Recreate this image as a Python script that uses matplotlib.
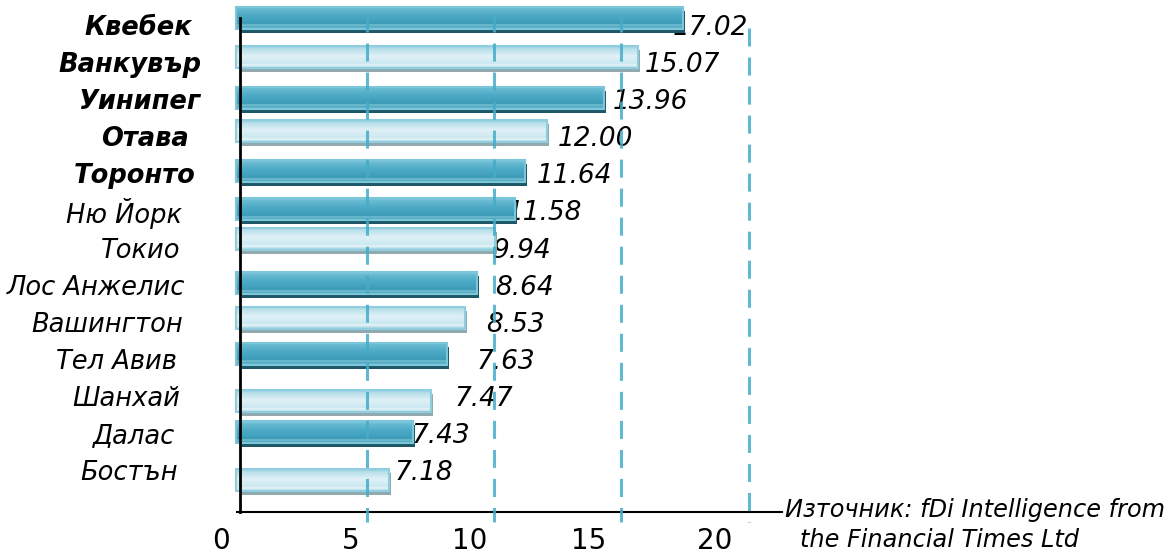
import numpy as np
import matplotlib.pyplot as plt
from matplotlib.colors import to_rgb

# данни от картинката
cities = ["Квебек", "Ванкувър", "Уинипег", "Отава", "Торонто", "Ню Йорк", "Токио",
          "Лос Анжелис", "Вашингтон", "Тел Авив", "Шанхай", "Далас", "Бостън"]
value_text = ["17.02", "15.07", "13.96", "12.00", "11.64", "11.58", "9.94",
              "8.64", "8.53", "7.63", "7.47", "7.43", "7.18"]
# дължините на стълбовете, както са нарисувани по оста (не съвпадат точно с надписите)
bar_len = [17.43, 15.66, 14.32, 12.08, 11.22, 10.83, 10.04, 9.33, 8.86, 8.15, 7.52, 6.82, 5.87]
canadian = [True] * 5 + [False] * 8
tick_text = ["0", "5", "10", "15", "20"]
grid_vals = [5, 10, 15, 20]
source_1 = "Източник: fDi Intelligence from"
source_2 = "the Financial Times Ltd"

# оформление (в пиксели на картинката)
W, H = 1172, 554
x0_px = 239.5
px_per_unit = 25.46
x_left = -1.0
axis_y = 512
axis_right = 782
bar_y = [17.5, 57, 97.5, 131, 171, 209, 238.5, 283, 317.5, 353.5, 401, 432, 480]
bar_h = 22
dark = [1, 0, 1, 0, 1, 1, 0, 1, 0, 1, 0, 1, 0]
text_y = 28 + 37.1 * np.arange(len(cities))
name_right_px = [192, 201, 200, 189, 196, 182, 180, 185, 183, 177, 180, 175, 178]
val_dx = [-11, 7, 9, 11, 12, -9, -2, 18, 21, 30, 24, -2, 6]
tick_px = [221, 351, 470, 589, 715]


def gradient(stops, n=60):
    pos = [s[0] for s in stops]
    cols = np.array([to_rgb(s[1]) for s in stops])
    t = np.linspace(0, 1, n)
    g = np.stack([np.interp(t, pos, cols[:, k]) for k in range(3)], axis=1)
    return g[:, None, :]


dark_grad = gradient([(0.0, "#8fd0e0"), (0.1, "#6cbcd3"), (0.35, "#52adc8"),
                      (0.6, "#44a4c1"), (0.8, "#3b99b6"), (0.87, "#7cc3d6"),
                      (0.94, "#4aa3bf"), (1.0, "#6ab8cf")])
light_grad = gradient([(0.0, "#8ecde0"), (0.12, "#b6dfea"), (0.45, "#e0f1f6"),
                       (0.8, "#cbe8f0"), (0.87, "#eaf6f9"), (1.0, "#a3d6e3")])

fig = plt.figure(figsize=(W / 100, H / 100), dpi=100)
left_px = x0_px + x_left * px_per_unit
ax = fig.add_axes([left_px / W, (H - axis_y) / H, (axis_right - left_px) / W, axis_y / H])

for i in range(len(cities)):
    shadow = "#1e5868" if dark[i] else "#91a9af"
    border = "#7cc6d9" if dark[i] else "#8fcddf"
    ax.barh(bar_y[i] + 4, bar_len[i] - 0.02, left=0.1, height=bar_h,
            color=shadow, zorder=1.9)
    ax.imshow(dark_grad if dark[i] else light_grad, aspect="auto", origin="upper",
              extent=(-0.12, bar_len[i], bar_y[i] + bar_h / 2, bar_y[i] - bar_h / 2),
              zorder=2, interpolation="bilinear")
    ax.barh(bar_y[i], bar_len[i] + 0.12, left=-0.12, height=bar_h, fill=False,
            edgecolor=border, linewidth=1.5, zorder=2.1)

    ax.annotate(value_text[i], xy=(bar_len[i], text_y[i]), xytext=(val_dx[i], 0),
                textcoords="offset pixels", ha="left", va="center",
                fontsize=19, style="italic", zorder=1.5, annotation_clip=False)
    ax.annotate(cities[i], xy=(0, text_y[i]), xytext=(name_right_px[i] - x0_px, 0),
                textcoords="offset pixels", ha="right", va="center",
                fontsize=18.5, style="italic",
                weight="bold" if canadian[i] else "normal", annotation_clip=False)

# пунктирни линии
for k, v in enumerate(grid_vals):
    top = 28 if k == len(grid_vals) - 1 else 14
    ax.vlines(v, top, axis_y + 10, colors="#45acc8", linewidth=2.2,
              linestyles=(0, (5.9, 3.6)), zorder=3, alpha=0.85, clip_on=False)

ax.set_yticks([])
ax.set_xticks([(p - x0_px) / px_per_unit for p in tick_px], tick_text)
ax.tick_params(axis="x", length=0, pad=11, labelsize=20)
xmax = (axis_right - x0_px) / px_per_unit
ax.set_xlim(x_left, xmax)
ax.set_ylim(axis_y, 0)

for s in ["top", "right"]:
    ax.spines[s].set_visible(False)
ax.spines["left"].set_position(("data", 0))
ax.spines["left"].set_linewidth(2)
ax.spines["left"].set_bounds(18, axis_y)
ax.spines["bottom"].set_linewidth(1.5)
ax.spines["bottom"].set_bounds(-0.1, xmax)
ax.patch.set_alpha(0)

fig.text(785 / W, 1 - 510 / H, source_1, fontsize=17.3, style="italic", va="center")
fig.text(800 / W, 1 - 540 / H, source_2, fontsize=17.3, style="italic", va="center")

fig.savefig("out.png", dpi=100, facecolor="white")
